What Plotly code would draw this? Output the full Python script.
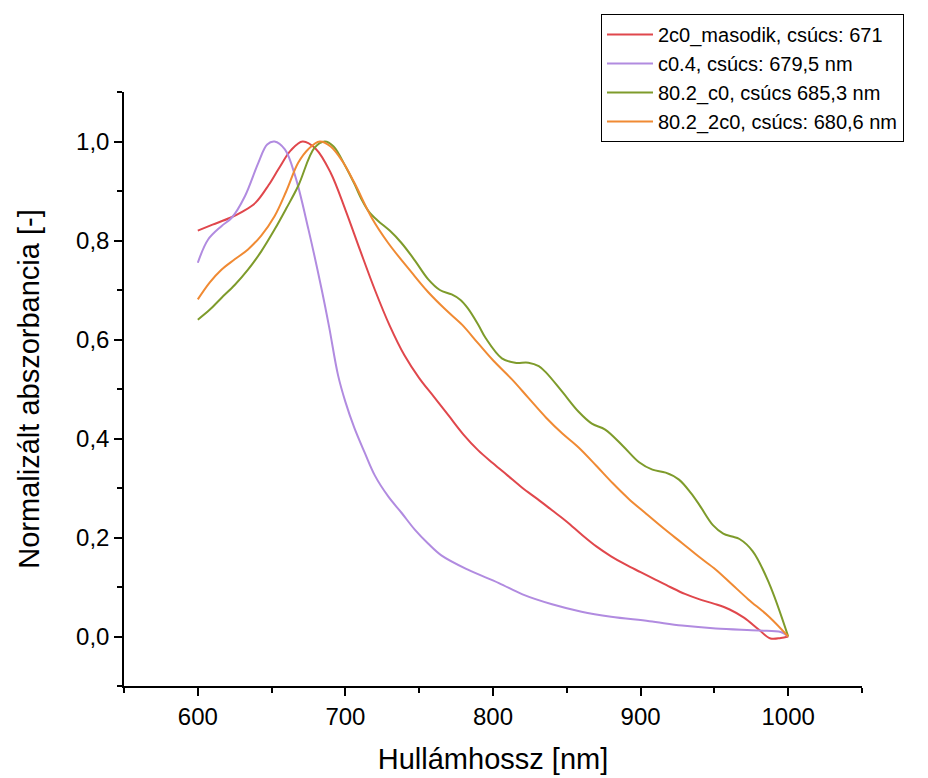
import plotly.graph_objects as go

# ---- data ----
red_name = "2c0_masodik, csúcs: 671"
red_x = [600, 610, 622, 630, 639, 648, 655, 663, 671, 680, 690, 700, 710, 720, 730, 740, 750, 760, 770,
         780, 790, 800, 810, 820, 830, 840, 850, 860, 870, 880, 890, 900, 910, 920, 930, 940, 950, 960,
         970, 980, 988, 995, 1000]
red_y = [0.820, 0.832, 0.846, 0.858, 0.876, 0.912, 0.946, 0.982, 1.000, 0.985, 0.937, 0.862, 0.780,
         0.700, 0.628, 0.568, 0.522, 0.484, 0.446, 0.408, 0.376, 0.350, 0.325, 0.300, 0.278, 0.255,
         0.232, 0.206, 0.182, 0.162, 0.145, 0.130, 0.115, 0.100, 0.086, 0.075, 0.066, 0.055, 0.038,
         0.014, -0.004, -0.003, 0.000]

purple_name = "c0.4, csúcs: 679,5 nm"
purple_x = [600, 607, 616, 623, 632, 641, 647, 652, 659, 666, 675, 684, 689, 695, 700, 706, 713, 720, 729,
            738, 747, 756, 765, 783, 804, 820, 840, 860, 880, 906, 928, 951, 980, 995, 1000]
purple_y = [0.755, 0.802, 0.829, 0.846, 0.890, 0.957, 0.994, 1.000, 0.984, 0.930, 0.822, 0.700, 0.625,
            0.528, 0.474, 0.422, 0.372, 0.325, 0.283, 0.250, 0.216, 0.188, 0.164, 0.135, 0.108, 0.085,
            0.065, 0.050, 0.040, 0.031, 0.022, 0.016, 0.012, 0.009, 0.000]

green_name = "80.2_c0, csúcs 685,3 nm"
green_x = [600, 608, 616, 625, 634, 643, 652, 660, 668, 679, 686, 692, 700, 706, 711, 716, 722, 730, 738,
           747, 756, 764, 772, 778, 783, 790, 795, 806, 815, 824, 831, 836, 847, 858, 867, 876, 888, 899,
           908, 917, 926, 934, 940, 949, 956, 962, 967, 976, 987, 1000]
green_y = [0.640, 0.660, 0.684, 0.710, 0.741, 0.778, 0.822, 0.865, 0.910, 0.987, 1.000, 0.990, 0.950,
           0.915, 0.883, 0.858, 0.840, 0.820, 0.795, 0.760, 0.722, 0.700, 0.691, 0.680, 0.663, 0.630,
           0.603, 0.562, 0.553, 0.553, 0.546, 0.533, 0.494, 0.454, 0.430, 0.418, 0.385, 0.352, 0.337,
           0.331, 0.317, 0.290, 0.265, 0.225, 0.208, 0.202, 0.197, 0.172, 0.108, 0.000]

orange_name = "80.2_2c0, csúcs: 680,6 nm"
orange_x = [600, 608, 616, 625, 634, 643, 652, 660, 668, 675, 682.6, 690, 698, 706, 718, 729, 745, 756,
            768, 779, 790, 800, 813, 824, 836, 847, 858, 870, 881, 892, 903, 917, 928, 940, 951, 962, 973,
            987, 1000]
orange_y = [0.681, 0.715, 0.741, 0.762, 0.782, 0.810, 0.849, 0.900, 0.957, 0.985, 1.000, 0.990, 0.960,
            0.917, 0.845, 0.795, 0.735, 0.696, 0.660, 0.630, 0.592, 0.558, 0.519, 0.482, 0.442, 0.410,
            0.382, 0.345, 0.310, 0.278, 0.250, 0.215, 0.189, 0.160, 0.135, 0.105, 0.075, 0.040, 0.000]

x_title = "Hullámhossz [nm]"
y_title = "Normalizált abszorbancia [-]"
x_ticks = [600, 700, 800, 900, 1000]
y_ticks = [0.0, 0.2, 0.4, 0.6, 0.8, 1.0]

series = [
    (red_name, red_x, red_y, "#E0474C"),
    (purple_name, purple_x, purple_y, "#B18BE0"),
    (green_name, green_x, green_y, "#7E9B2B"),
    (orange_name, orange_x, orange_y, "#F08A33"),
]

FONT = "Arial, Liberation Sans, sans-serif"

fig = go.Figure()
for name, xs, ys, col in series:
    fig.add_trace(go.Scatter(x=xs, y=ys, name=name, mode="lines",
                             line=dict(color=col, width=2, shape="spline", smoothing=1.0)))

axis_common = dict(
    showline=True, linecolor="black", linewidth=1.5, mirror=False,
    ticks="outside", ticklen=8, tickwidth=1.5, tickcolor="black",
    showgrid=False, zeroline=False,
    tickfont=dict(family=FONT, size=24, color="black"),
)

fig.update_xaxes(range=[550, 1050], tickvals=x_ticks,
                 minor=dict(ticks="outside", ticklen=5, tickwidth=1.5, tickcolor="black", dtick=50, tick0=550, showgrid=False),
                 title=dict(text=x_title, font=dict(family=FONT, size=29, color="black"), standoff=20),
                 **axis_common)
fig.update_yaxes(range=[-0.1, 1.1], tickvals=y_ticks, tickformat=".1f",
                 minor=dict(ticks="outside", ticklen=5, tickwidth=1.5, tickcolor="black", dtick=0.1, tick0=-0.1, showgrid=False),
                 title=dict(text=y_title, font=dict(family=FONT, size=29, color="black"), standoff=28),
                 **axis_common)

fig.update_layout(
    width=928, height=778,
    margin=dict(l=124, r=66, t=92, b=92, autoexpand=False),
    plot_bgcolor="white", paper_bgcolor="white",
    separators=", ",
    font=dict(family=FONT, color="black"),
    showlegend=True,
    legend=dict(xref="container", yref="container", x=601 / 928, y=1 - 14 / 778,
                xanchor="left", yanchor="top",
                bgcolor="white", bordercolor="black", borderwidth=1,
                font=dict(family=FONT, size=20, color="black"),
                itemwidth=46, tracegroupgap=0,
                entrywidth=300, entrywidthmode="pixels"),
)

fig.write_html("out.html")
